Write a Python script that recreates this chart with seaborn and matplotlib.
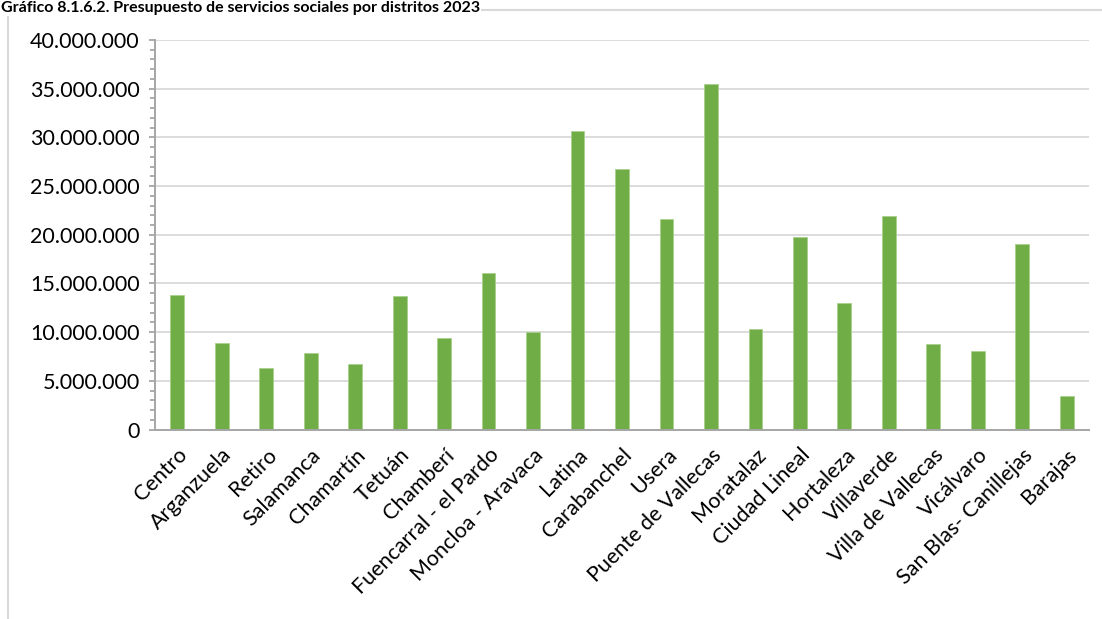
import matplotlib
matplotlib.use("Agg")
import matplotlib.pyplot as plt
import matplotlib.ticker as mticker
from matplotlib.lines import Line2D
import seaborn as sns
import pandas as pd

title = "Gráfico 8.1.6.2. Presupuesto de servicios sociales por distritos 2023"
districts = ["Centro", "Arganzuela", "Retiro", "Salamanca", "Chamartín", "Tetuán",
             "Chamberí", "Fuencarral - el Pardo", "Moncloa - Aravaca", "Latina",
             "Carabanchel", "Usera", "Puente de Vallecas", "Moratalaz", "Ciudad Lineal",
             "Hortaleza", "Villaverde", "Villa de Vallecas", "Vicálvaro",
             "San Blas- Canillejas", "Barajas"]
budget = [13780000, 8880000, 6350000, 7900000, 6730000, 13740000,
          9350000, 16050000, 10060000, 30670000,
          26770000, 21600000, 35500000, 10300000, 19800000,
          13000000, 21900000, 8750000, 8100000,
          19000000, 3400000]
yticks = [0, 5000000, 10000000, 15000000, 20000000, 25000000, 30000000, 35000000, 40000000]

sns.set_theme(style="white")
plt.rcParams['font.family'] = ['Lato', 'DejaVu Sans']

df = pd.DataFrame({"Distrito": districts, "Presupuesto": budget})

fig = plt.figure(figsize=(11.02, 6.19), dpi=100)
ax = fig.add_axes([155/1102, 1 - 429.5/619, (1089-155)/1102, (429.5-40)/619])

sns.barplot(data=df, x="Distrito", y="Presupuesto", color="#70AD47", width=0.31,
            saturation=1, edgecolor="#A9D18E", linewidth=0.6, ax=ax)

ax.set_ylim(0, 40000000)
ax.set_xlim(-0.5, len(districts) - 0.5)
ax.set_yticks(yticks)
ax.yaxis.set_major_formatter(mticker.FuncFormatter(lambda v, p: f"{int(v):,}".replace(",", ".")))
ax.yaxis.set_minor_locator(mticker.MultipleLocator(1000000))
ax.grid(axis="y", color="#D9D9D9", linewidth=1.3)
ax.set_axisbelow(True)
ax.set_xlabel("")
ax.set_ylabel("")

for s in ["top", "right"]:
    ax.spines[s].set_visible(False)
for s in ["left", "bottom"]:
    ax.spines[s].set_color("#A6A6A6")
    ax.spines[s].set_linewidth(1.4)

ax.tick_params(axis="y", which="major", left=True, length=4, width=1.3, color="#A6A6A6",
               labelsize=15.5, labelcolor="#000000", pad=7)
ax.tick_params(axis="y", which="minor", left=True, length=3.5, width=1.3, color="#A6A6A6")
ax.tick_params(axis="x", bottom=False, labelsize=15.5, labelcolor="#000000", pad=5)
for lab in ax.get_xticklabels():
    lab.set_rotation(45)
    lab.set_ha("right")
    lab.set_va("top")
    lab.set_rotation_mode("anchor")

# outer chart frame (partially visible)
fig.add_artist(Line2D([8/1102, 8/1102], [0, 1 - 10/619], transform=fig.transFigure,
                      color="#D9D9D9", linewidth=1.5))
fig.add_artist(Line2D([8/1102, 1], [1 - 10/619, 1 - 10/619], transform=fig.transFigure,
                      color="#D9D9D9", linewidth=1.5))

fig.text(1/1102, 1 - 12/619, title, ha="left", va="baseline", fontsize=11.5, fontweight="bold",
         color="#000000", bbox=dict(facecolor="white", edgecolor="none", pad=0.5), zorder=5)

fig.savefig("out.png", dpi=100)
